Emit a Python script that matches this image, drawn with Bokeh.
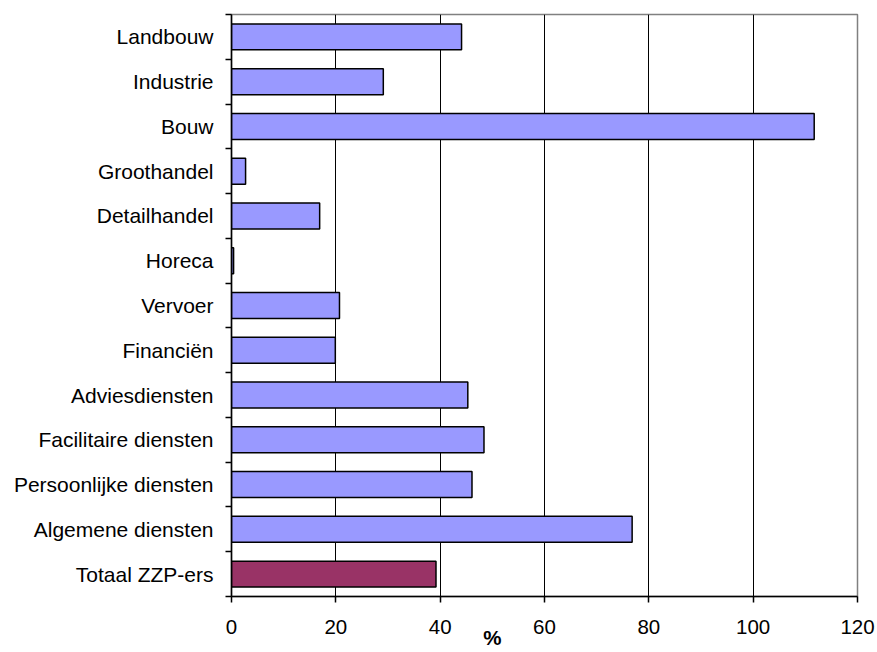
from bokeh.plotting import figure
from bokeh.models import Range1d, FixedTicker, LinearAxis, ColumnDataSource
from bokeh.embed import file_html
from bokeh.resources import INLINE

categories = ["Landbouw", "Industrie", "Bouw", "Groothandel", "Detailhandel", "Horeca",
              "Vervoer", "Financiën", "Adviesdiensten", "Facilitaire diensten",
              "Persoonlijke diensten", "Algemene diensten", "Totaal ZZP-ers"]
values = [44.1, 29.1, 111.7, 2.7, 16.9, 0.4, 20.7, 19.9, 45.3, 48.4, 46.1, 76.8, 39.2]
colors = ["#9999FF"] * 12 + ["#993366"]
x_ticks = [0, 20, 40, 60, 80, 100, 120]
x_title = "%"
x_title_pos = 50

n = len(categories)
ypos = [n - 1 - i for i in range(n)]

src = ColumnDataSource(dict(y=ypos, v=values, c=colors, name=categories))

FONT = "Liberation Sans"

p = figure(width=877, height=652, output_backend="svg", toolbar_location=None,
           x_range=Range1d(0, 120), y_range=Range1d(-0.5, n - 0.5),
           min_border_left=231, min_border_right=20, min_border_top=14, min_border_bottom=56)
p.background_fill_color = "white"
p.border_fill_color = "white"
p.outline_line_color = "#808080"
p.outline_line_width = 1.5

p.hbar(y="y", right="v", left=0, height=0.58, fill_color="c", line_color="black",
       line_width=1.5, source=src)

# main x axis
xa = p.xaxis[0]
xa.ticker = FixedTicker(ticks=x_ticks)
xa.axis_line_color = "black"
xa.axis_line_width = 1.5
xa.major_tick_line_color = "black"
xa.major_tick_line_width = 1.5
xa.major_tick_out = 6
xa.major_tick_in = 0
xa.minor_tick_line_color = None
xa.minor_tick_out = 0
xa.minor_tick_in = 0
xa.major_label_text_font = FONT
xa.major_label_text_font_size = "20.5px"
xa.major_label_text_color = "black"
xa.major_label_standoff = 17

# y axis
ya = p.yaxis[0]
ya.ticker = FixedTicker(ticks=ypos, minor_ticks=[i - 0.5 for i in range(n + 1)])
ya.major_label_overrides = {y: c for y, c in zip(ypos, categories)}
ya.axis_line_color = "black"
ya.axis_line_width = 1.5
ya.major_tick_line_color = None
ya.major_tick_out = 0
ya.major_tick_in = 0
ya.minor_tick_line_color = "black"
ya.minor_tick_line_width = 1.5
ya.minor_tick_out = 6
ya.minor_tick_in = 0
ya.major_label_text_font = FONT
ya.major_label_text_font_size = "21px"
ya.major_label_text_color = "black"
ya.major_label_standoff = 12

# grid
p.ygrid.grid_line_color = None
p.xgrid.ticker = FixedTicker(ticks=[t for t in x_ticks if 0 < t < 120])
p.xgrid.grid_line_color = "black"
p.xgrid.grid_line_width = 1

# axis title "%" placed via a second (invisible) axis at x = 50
ta = LinearAxis(ticker=FixedTicker(ticks=[x_title_pos]),
                major_label_overrides={x_title_pos: x_title})
ta.axis_line_color = None
ta.major_tick_line_color = None
ta.minor_tick_line_color = None
ta.major_tick_out = 0
ta.major_tick_in = 0
ta.minor_tick_out = 0
ta.minor_tick_in = 0
ta.major_label_text_font = FONT
ta.major_label_text_font_size = "20.5px"
ta.major_label_text_font_style = "bold"
ta.major_label_text_color = "black"
ta.major_label_standoff = -11
p.add_layout(ta, "below")

open("out.html", "w").write(file_html(p, INLINE))
